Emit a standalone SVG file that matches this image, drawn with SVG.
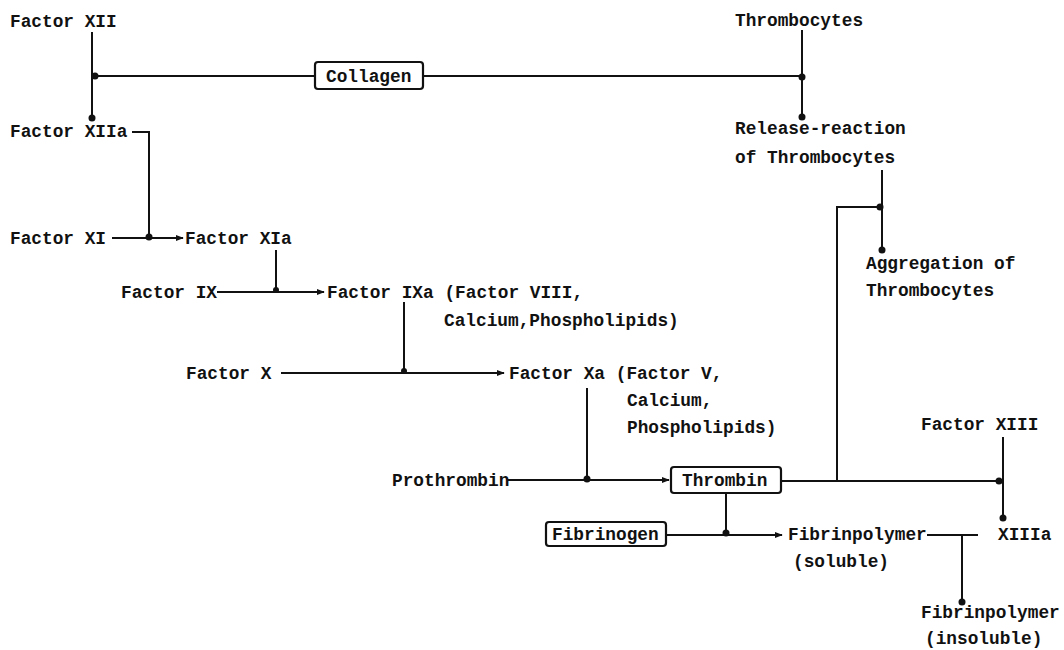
<svg xmlns="http://www.w3.org/2000/svg" width="1064" height="650" viewBox="0 0 1064 650">
<defs>
<style>
text{font-family:"Liberation Mono","DejaVu Sans Mono",monospace;font-weight:bold;font-size:17.8px;fill:#111}
.ln{stroke:#111;stroke-width:2;fill:none}
.box{stroke:#111;stroke-width:2.2;fill:#fff}
.dot{fill:#111}
</style>
<marker id="ar" viewBox="0 0 10 10" refX="9" refY="5" markerWidth="4" markerHeight="4" orient="auto" markerUnits="strokeWidth">
<path d="M0,1 L10,5 L0,9 z" fill="#111"/>
</marker>
</defs>
<rect width="1064" height="650" fill="#fff"/>
<g id="connectors">
<path class="ln" d="M92,32 V117"/>
<path class="ln" d="M93,76 H315"/>
<path class="ln" d="M423,76 H801"/>
<path class="ln" d="M802,30 V116"/>
<path class="ln" d="M132,132 H149 V237"/>
<path class="ln" d="M112,238 H183" marker-end="url(#ar)"/>
<path class="ln" d="M276,250 V291"/>
<path class="ln" d="M217,292 H324" marker-end="url(#ar)"/>
<path class="ln" d="M404,302 V371"/>
<path class="ln" d="M281,373 H504" marker-end="url(#ar)"/>
<path class="ln" d="M587,388 V479"/>
<path class="ln" d="M508,480 H669" marker-end="url(#ar)"/>
<path class="ln" d="M781,481 H1002"/>
<path class="ln" d="M837,481 V207 H881"/>
<path class="ln" d="M882,170 V250"/>
<path class="ln" d="M1003,437 V518"/>
<path class="ln" d="M726,493 V535"/>
<path class="ln" d="M666,535 H782" marker-end="url(#ar)"/>
<path class="ln" d="M927,535 H978"/>
<path class="ln" d="M962,535 V602"/>
<circle class="dot" cx="95" cy="76" r="3.5"/>
<circle class="dot" cx="92" cy="118" r="3.5"/>
<circle class="dot" cx="802" cy="77" r="3.5"/>
<circle class="dot" cx="802" cy="117" r="3.5"/>
<circle class="dot" cx="149" cy="237" r="3.5"/>
<circle class="dot" cx="276" cy="290" r="3"/>
<circle class="dot" cx="404" cy="371" r="3"/>
<circle class="dot" cx="587" cy="479" r="3.5"/>
<circle class="dot" cx="880" cy="207" r="3.5"/>
<circle class="dot" cx="882" cy="250" r="3.5"/>
<circle class="dot" cx="999" cy="481" r="3.5"/>
<circle class="dot" cx="1003" cy="518" r="3.5"/>
<circle class="dot" cx="726" cy="533" r="3.5"/>
<circle class="dot" cx="962" cy="602" r="3.5"/>
</g>
<g id="factor-xii"><text x="10" y="27">Factor XII</text></g>
<g id="thrombocytes"><text x="735" y="26">Thrombocytes</text></g>
<g id="collagen"><rect class="box" x="315" y="62" width="108" height="27" rx="3"/><text x="326" y="82">Collagen</text></g>
<g id="factor-xiia"><text x="10" y="137">Factor XIIa</text></g>
<g id="release-reaction"><text x="735" y="134">Release-reaction</text><text x="735" y="163">of Thrombocytes</text></g>
<g id="factor-xi"><text x="10" y="244">Factor XI</text></g>
<g id="factor-xia"><text x="185" y="244">Factor XIa</text></g>
<g id="aggregation"><text x="866" y="269">Aggregation of</text><text x="866" y="296">Thrombocytes</text></g>
<g id="factor-ix"><text x="121" y="298">Factor IX</text></g>
<g id="factor-ixa"><text x="327" y="298">Factor IXa (Factor VIII,</text><text x="444" y="326">Calcium,Phospholipids)</text></g>
<g id="factor-x"><text x="186" y="379">Factor X</text></g>
<g id="factor-xa"><text x="509" y="379">Factor Xa (Factor V,</text><text x="627" y="406">Calcium,</text><text x="627" y="433">Phospholipids)</text></g>
<g id="prothrombin"><text x="392" y="486">Prothrombin</text></g>
<g id="thrombin"><rect class="box" x="671" y="467" width="110" height="26" rx="3"/><text x="682" y="486">Thrombin</text></g>
<g id="factor-xiii"><text x="921" y="430">Factor XIII</text></g>
<g id="xiiia"><text x="998" y="540">XIIIa</text></g>
<g id="fibrinogen"><rect class="box" x="546" y="522" width="120" height="24" rx="3"/><text x="552" y="540">Fibrinogen</text></g>
<g id="fibrinpolymer-soluble"><text x="788" y="540">Fibrinpolymer</text><text x="793" y="567">(soluble)</text></g>
<g id="fibrinpolymer-insoluble"><text x="921" y="618">Fibrinpolymer</text><text x="925" y="644">(insoluble)</text></g>
</svg>
